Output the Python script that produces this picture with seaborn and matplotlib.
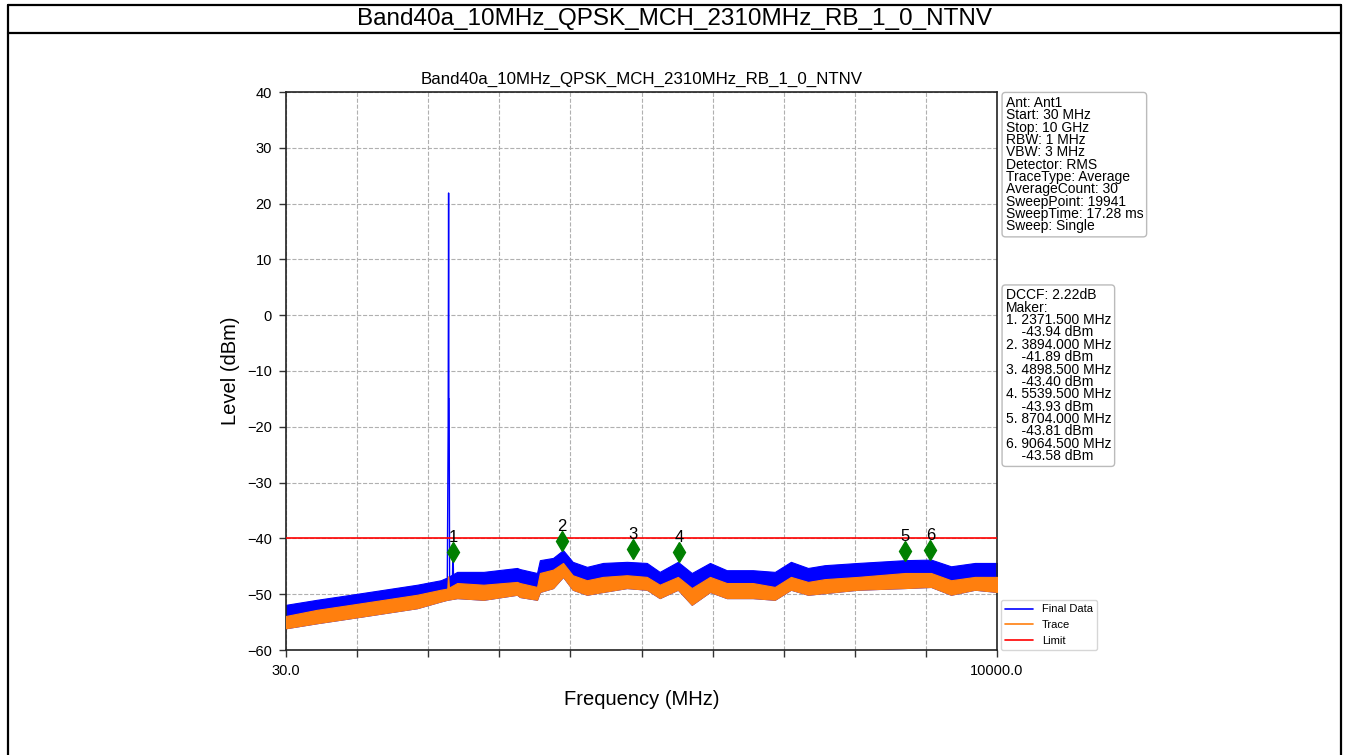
import numpy as np
import pandas as pd
import matplotlib
matplotlib.use("Agg")
import matplotlib.pyplot as plt
from matplotlib.lines import Line2D
import seaborn as sns

TITLE = "Band40a_10MHz_QPSK_MCH_2310MHz_RB_1_0_NTNV"

freq = [30, 465, 940, 1405, 1870, 2200, 2290, 2430, 2800, 3270, 3310, 3550, 3590,
        3775, 3915, 4050, 4250, 4475, 4810, 5090, 5270, 5525, 5720, 5975, 6210,
        6575, 6885, 7110, 7350, 7585, 8050, 8710, 9075, 9355, 9690, 10000]
final_hi = [-51.9, -51.0, -50.1, -49.2, -48.3, -47.5, -47.0, -46.0, -46.0, -45.3,
            -45.5, -46.2, -43.9, -43.5, -42.1, -44.2, -45.1, -44.4, -44.2, -44.4,
            -46.0, -44.2, -46.2, -44.4, -45.7, -45.7, -46.0, -44.2, -45.3, -44.8,
            -44.4, -43.9, -43.8, -45.0, -44.4, -44.4]
trace_hi = [-53.9, -52.8, -51.9, -51.0, -50.1, -49.2, -49.0, -48.0, -48.3, -47.8,
            -48.0, -48.7, -46.2, -45.6, -44.4, -46.6, -47.5, -46.9, -46.6, -46.9,
            -48.3, -46.9, -48.9, -46.9, -48.0, -48.0, -48.7, -46.9, -47.8, -47.3,
            -46.9, -46.2, -46.2, -47.5, -46.9, -46.9]
trace_lo = [-56.1, -55.2, -54.3, -53.4, -52.5, -51.3, -51.0, -50.7, -51.0, -50.1,
            -50.5, -51.0, -49.6, -48.9, -46.9, -49.2, -50.1, -49.6, -48.9, -49.2,
            -50.7, -49.2, -51.9, -49.6, -50.7, -50.7, -51.0, -49.2, -50.1, -49.8,
            -49.2, -48.9, -48.7, -50.1, -49.2, -49.6]

# Carrier spike in the Final Data trace
spike_freq = [2292, 2304, 2310, 2314, 2318, 2324, 2364, 2371.5, 2379]
spike_level = [-47.0, -20.0, 21.9, -15.0, -15.0, -47.3, -47.2, -41.6, -47.0]
trace_spike_freq = [2296, 2310, 2324]
trace_spike_level = [-50.0, -46.9, -49.5]

limit_freq = [30, 10000]
limit_level = [-40, -40]

# Markers
marker_no = ["1", "2", "3", "4", "5", "6"]
marker_freq = [2371.5, 3894.0, 4898.5, 5539.5, 8704.0, 9064.5]
marker_dbm = [-43.94, -41.89, -43.40, -43.93, -43.81, -43.58]
marker_plot = [-42.4, -40.4, -41.9, -42.4, -42.3, -42.1]

info_lines = ["Ant: Ant1", "Start: 30 MHz", "Stop: 10 GHz", "RBW: 1 MHz", "VBW: 3 MHz",
              "Detector: RMS", "TraceType: Average", "AverageCount: 30",
              "SweepPoint: 19941", "SweepTime: 17.28 ms", "Sweep: Single"]
dccf_text = "DCCF: 2.22dB"

sns.set_style("white")
plt.rcParams["font.family"] = ["Liberation Sans", "DejaVu Sans"]
for k in ["text.color", "axes.labelcolor", "xtick.color", "ytick.color"]:
    plt.rcParams[k] = "black"

fig = plt.figure(figsize=(13.49, 7.55), dpi=100)
ax = fig.add_axes([286 / 1349, 1 - 650 / 755, (997 - 286) / 1349, (650 - 92) / 755])

BLUE = "#0000ff"
ORANGE = "#ff7f0e"

# Final Data band (lower part hidden by Trace)
ax.fill_between(freq, trace_lo, final_hi, color=BLUE, lw=0.8, edgecolor=BLUE, zorder=2)
sns.lineplot(x=spike_freq, y=spike_level, ax=ax, color=BLUE, lw=1.0, zorder=2,
             sort=False, estimator=None)
# Trace band
ax.fill_between(freq, trace_lo, trace_hi, color=ORANGE, lw=0.8, edgecolor=ORANGE, zorder=3)
sns.lineplot(x=trace_spike_freq, y=trace_spike_level, ax=ax, color=ORANGE, lw=1.0,
             zorder=3, sort=False, estimator=None)
# Limit
sns.lineplot(x=limit_freq, y=limit_level, ax=ax, color="red", lw=1.2, zorder=4)

# Markers
ax.plot(marker_freq, marker_plot, linestyle="none", marker="d", markersize=10,
        color="green", zorder=5)
for n, f, v in zip(marker_no, marker_freq, marker_plot):
    ax.annotate(n, (f, v), xytext=(0, 5), textcoords="offset points",
                ha="center", va="bottom", fontsize=12, zorder=6)

ax.set_xlim(30, 10000)
ax.set_ylim(-60, 40)
ax.set_xticks([30, 10000])
ax.set_xticklabels(["30.0", "10000.0"])
ax.set_xticks([30 + 997 * k for k in range(1, 10)], minor=True)
ax.set_yticks(range(-60, 41, 10))
ax.grid(True, which="both", linestyle="--", color="#b0b0b0", lw=0.8)
ax.tick_params(axis="both", which="both", direction="out", length=5, width=1,
               labelsize=10.5, pad=5, bottom=True, left=True, color="#333333")
for s in ax.spines.values():
    s.set_color("#222222")
    s.set_linewidth(1.2)
ax.set_xlabel("Frequency (MHz)", fontsize=14.5, labelpad=9)
ax.set_ylabel("Level (dBm)", fontsize=14.5, labelpad=5)
ax.set_title(TITLE, fontsize=12.2, pad=6)

handles = [Line2D([], [], color=BLUE, lw=1.2), Line2D([], [], color=ORANGE, lw=1.2),
           Line2D([], [], color="red", lw=1.2)]
ax.legend(handles, ["Final Data", "Trace", "Limit"], loc="lower left",
          bbox_to_anchor=(1.005, 0.0), fontsize=8, frameon=True, borderaxespad=0,
          handlelength=2.5, fancybox=True)

box = dict(boxstyle="round,pad=0.25", fc="white", ec="#bbbbbb", lw=1)
ax.text(1.012, 0.993, "\n".join(info_lines), transform=ax.transAxes, ha="left",
        va="top", fontsize=10, linespacing=0.85, bbox=box)
mk_lines = [dccf_text, "Maker:"]
for n, f, v in zip(marker_no, marker_freq, marker_dbm):
    mk_lines.append(f"{n}. {f:.3f} MHz")
    mk_lines.append(f"    {v:.2f} dBm")
ax.text(1.012, 0.648, "\n".join(mk_lines), transform=ax.transAxes, ha="left",
        va="top", fontsize=10, linespacing=0.85, bbox=box)

# Outer report frame
W, H = 1349, 755
for (x0, y0, x1, y1) in [(8, 5, 1341, 5), (8, 33, 1341, 33), (8, 5, 8, 755),
                         (1341, 5, 1341, 755)]:
    fig.add_artist(Line2D([x0 / W, x1 / W], [1 - y0 / H, 1 - y1 / H],
                          transform=fig.transFigure, color="black", lw=1.6))
fig.text(674.5 / W, 1 - 19 / H, TITLE, ha="center", va="center", fontsize=17.5)

fig.savefig("out.png", dpi=100)
